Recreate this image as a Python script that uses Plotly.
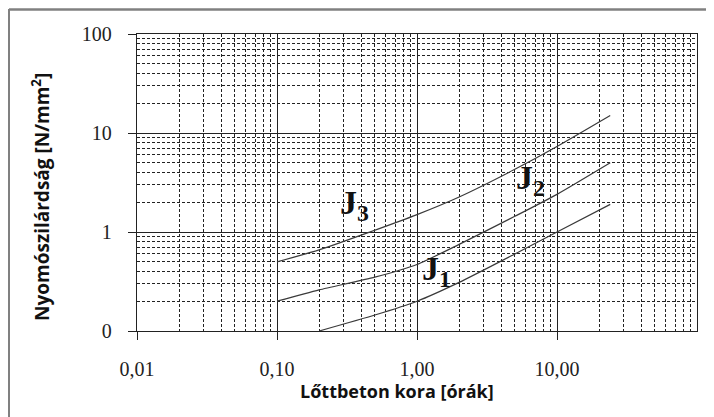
import plotly.graph_objects as go
import math

# Data
j1_x = [0.2, 0.5, 1, 2, 5, 10, 24]
j1_y = [0.1, 0.145, 0.2, 0.31, 0.6, 1.0, 1.9]
j2_x = [0.1, 0.2, 0.5, 1, 2, 5, 10, 24]
j2_y = [0.2, 0.26, 0.35, 0.47, 0.75, 1.44, 2.4, 5.0]
j3_x = [0.1, 0.2, 0.46, 1, 2, 5, 10, 24]
j3_y = [0.5, 0.66, 1.0, 1.5, 2.26, 4.3, 7.3, 15.0]

x_tickvals = [0.01, 0.1, 1, 10]
x_ticktext = ["0,01", "0,10", "1,00", "10,00"]
y_tickvals = [0.1, 1, 10, 100]
y_ticktext = ["0", "1", "10", "100"]

labels = [("J", "3", 0.356, 1.875), ("J", "2", 6.46, 3.35), ("J", "1", 1.37, 0.40)]

W, H = 714, 417
OFF = 8  # page offset of the figure inside the window
ML, MR, MT, MB = 129, 25, 26, 94

fig = go.Figure()
line_style = dict(color="#3a3a3a", width=1.2, shape="spline", smoothing=0.6)
for xs, ys in [(j1_x, j1_y), (j2_x, j2_y), (j3_x, j3_y)]:
    fig.add_trace(go.Scatter(x=xs, y=ys, mode="lines", line=line_style,
                             showlegend=False, hoverinfo="skip"))

for main, sub, lx, ly in labels:
    fig.add_annotation(x=math.log10(lx), y=math.log10(ly), xref="x", yref="y",
                       text=f"<b>{main}</b><sub><b>{sub}</b></sub>", showarrow=False,
                       xanchor="center", yanchor="middle",
                       font=dict(family="Liberation Serif", size=34, color="#111"))

axis_common = dict(
    type="log",
    showline=True, linecolor="#222", linewidth=1.3, mirror=True,
    showgrid=True, gridcolor="#222", gridwidth=1.2,
    ticks="outside", ticklen=8, tickcolor="#222", tickwidth=1.2,
    tickfont=dict(family="Liberation Serif", size=20, color="#222"),
    zeroline=False,
    minor=dict(dtick="D1", showgrid=True, gridcolor="#222", gridwidth=1,
               griddash="3px,2px", ticks=""),
)

fig.update_layout(
    width=W, height=H,
    margin=dict(l=ML, r=MR, t=MT, b=MB),
    paper_bgcolor="white", plot_bgcolor="white",
    xaxis=dict(axis_common, range=[-2, 2], tickvals=x_tickvals, ticktext=x_ticktext,
               ticklabelstandoff=12),
    yaxis=dict(axis_common, range=[-1, 2], tickvals=y_tickvals, ticktext=y_ticktext,
               ticklabelstandoff=12),
)

pw, ph = W - ML - MR, H - MT - MB
def px_to_paper_x(px):
    return (px - OFF - ML) / pw
def px_to_paper_y(py):
    return (H - MB - (py - OFF)) / ph

# outer frame (top and left)
fig.add_shape(type="line", xref="paper", yref="paper", layer="above",
              x0=px_to_paper_x(9), x1=px_to_paper_x(722), y0=px_to_paper_y(9.5), y1=px_to_paper_y(9.5),
              line=dict(color="#808080", width=2.5))
fig.add_shape(type="line", xref="paper", yref="paper", layer="above",
              x0=px_to_paper_x(9), x1=px_to_paper_x(9), y0=px_to_paper_y(9), y1=px_to_paper_y(425),
              line=dict(color="#808080", width=2))

fig.add_annotation(xref="paper", yref="paper", x=px_to_paper_x(397), y=px_to_paper_y(391),
                   xanchor="center", yanchor="middle",
                   text="<b>Lőttbeton kora [órák]</b>", showarrow=False,
                   font=dict(family="Open Sans", size=18, color="#111"))
fig.add_annotation(xref="paper", yref="paper", x=px_to_paper_x(41), y=px_to_paper_y(197),
                   xanchor="center", yanchor="middle",
                   text="<b>Nyomószilárdság [N/mm<sup>2</sup>]</b>", showarrow=False, textangle=-90,
                   font=dict(family="Open Sans", size=19, color="#111"))

fig.write_html("out.html")
